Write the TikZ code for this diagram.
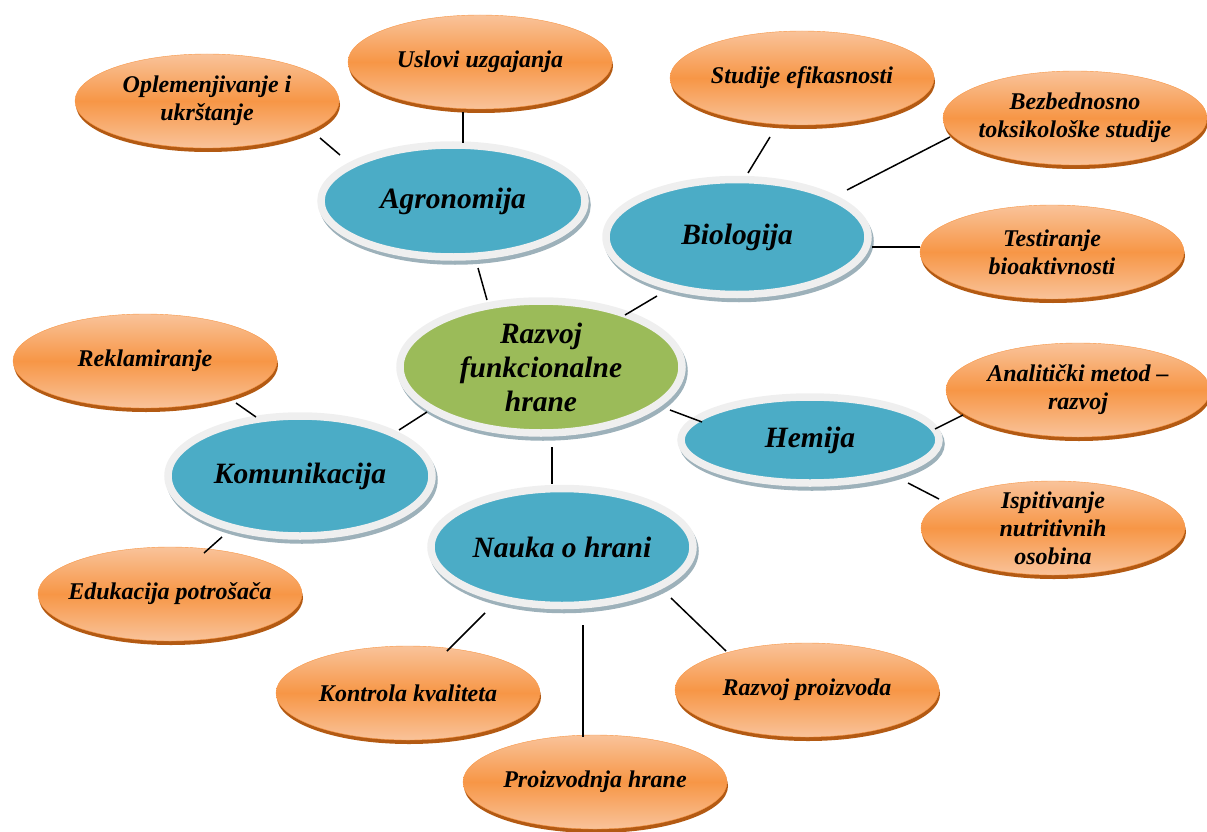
\documentclass[tikz,border=0pt]{standalone}
\usepackage{fontspec}
\setmainfont{Liberation Serif}
\usetikzlibrary{shapes.geometric, shadows}

\definecolor{leaforange}{HTML}{F79646}
\definecolor{leaflight}{HTML}{F9C39A}
\definecolor{leafshadow}{HTML}{B35A13}
\definecolor{hubblue}{HTML}{4BACC6}
\definecolor{hubgreen}{HTML}{9BBB59}
\definecolor{hubring}{HTML}{EFEFEF}
\definecolor{hubshadow}{HTML}{9DB1BA}

\begin{document}
\begin{tikzpicture}[x=1pt, y=-1pt,
  every node/.style={align=center, inner xsep=-20pt, inner ysep=-12pt, outer sep=0pt},
  leaf/.style={ellipse, minimum width=264pt, minimum height=94pt, draw=leaforange, thin,
    top color=leaflight, bottom color=leaflight, middle color=leaforange,
    general shadow={fill=leafshadow, shadow xshift=1pt, shadow yshift=-4pt},
    font=\fontsize{24}{28}\selectfont\bfseries\itshape},
  hub/.style={ellipse, fill=hubblue, draw=hubring, line width=7.5pt,
    general shadow={fill=hubshadow, draw=hubshadow, shadow xshift=2pt, shadow yshift=-4pt},
    font=\fontsize{29.5}{34}\selectfont\bfseries\itshape},
  link/.style={line width=1.5pt, black}
]
\useasboundingbox (0,0) rectangle (1207,832);

% centre and the five fields
\node[hub, fill=hubgreen, minimum width=282pt, minimum height=132pt] (razvoj) at (541,367) {Razvoj\\funkcionalne\\hrane};
\node[hub, minimum width=264pt, minimum height=112pt] (agro) at (453,201) {Agronomija};
\node[hub, minimum width=262pt, minimum height=115pt] (bio) at (737,237) {Biologija};
\node[hub, minimum width=258pt, minimum height=86pt] (hemija) at (810,440) {Hemija};
\node[hub, minimum width=264pt, minimum height=120pt] (komun) at (300,476) {Komunikacija};
\node[hub, minimum width=262pt, minimum height=117pt] (nauka) at (562,547) {Nauka o hrani};

% topics
\node[leaf] (oplem) at (207,101) {Oplemenjivanje i\\ukrštanje};
\node[leaf] (uslovi) at (480,62) {Uslovi uzgajanja};
\node[leaf] (studije) at (802,78) {Studije efikasnosti};
\node[leaf] (bezbed) at (1075,118) {Bezbednosno\\toksikološke studije};
\node[leaf] (testir) at (1052,252) {Testiranje\\bioaktivnosti};
\node[leaf] (reklam) at (145,361) {Reklamiranje};
\node[leaf] (analit) at (1078,390) {Analitički metod –\\razvoj};
\node[leaf] (ispit) at (1053,528) {Ispitivanje\\nutritivnih\\osobina};
\node[leaf] (eduk) at (170,594) {Edukacija potrošača};
\node[leaf] (kontrola) at (408,693) {Kontrola kvaliteta};
\node[leaf] (razvojpr) at (807,690) {Razvoj proizvoda};
\node[leaf] (proizv) at (595,782) {Proizvodnja hrane};

% connectors
\draw[link] ([shift={(113,37)}]oplem.center) -- ([shift={(-113,-46)}]agro.center);
\draw[link] ([shift={(-17,50)}]uslovi.center) -- ([shift={(10,-58)}]agro.center);
\draw[link] ([shift={(25,67)}]agro.center) -- ([shift={(-54,-67)}]razvoj.center);
\draw[link] ([shift={(-32,59)}]studije.center) -- ([shift={(11,-64)}]bio.center);
\draw[link] ([shift={(-125,19)}]bezbed.center) -- ([shift={(110,-47)}]bio.center);
\draw[link] ([shift={(-132,-5)}]testir.center) -- ([shift={(135,10)}]bio.center);
\draw[link] ([shift={(-80,59)}]bio.center) -- ([shift={(84,-52)}]razvoj.center);
\draw[link] ([shift={(129,43)}]razvoj.center) -- ([shift={(-108,-18)}]hemija.center);
\draw[link] ([shift={(125,-11)}]hemija.center) -- ([shift={(-115,25)}]analit.center);
\draw[link] ([shift={(98,43)}]hemija.center) -- ([shift={(-114,-29)}]ispit.center);
\draw[link] ([shift={(91,42)}]reklam.center) -- ([shift={(-44,-59)}]komun.center);
\draw[link] ([shift={(99,-46)}]komun.center) -- ([shift={(-114,45)}]razvoj.center);
\draw[link] ([shift={(-78,61)}]komun.center) -- ([shift={(34,-41)}]eduk.center);
\draw[link] ([shift={(11,80)}]razvoj.center) -- ([shift={(-10,-63)}]nauka.center);
\draw[link] ([shift={(-77,66)}]nauka.center) -- ([shift={(39,-42)}]kontrola.center);
\draw[link] ([shift={(21,78)}]nauka.center) -- ([shift={(-12,-45)}]proizv.center);
\draw[link] ([shift={(109,51)}]nauka.center) -- ([shift={(-81,-39)}]razvojpr.center);
\end{tikzpicture}
\end{document}
